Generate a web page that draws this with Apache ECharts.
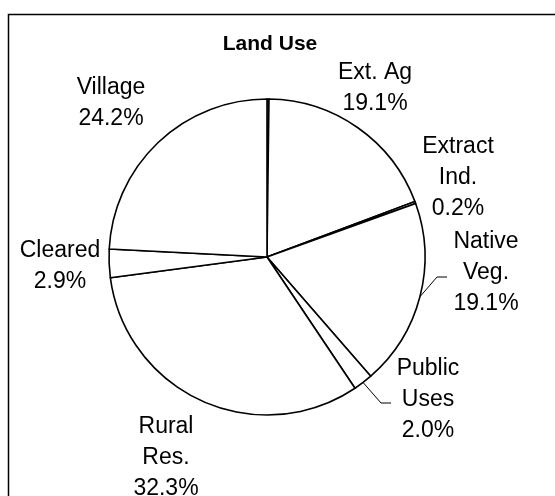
<!DOCTYPE html>
<html>
<head>
<meta charset="utf-8">
<script src="https://cdn.jsdelivr.net/npm/echarts@6/dist/echarts.min.js"></script>
<style>
  html, body { margin: 0; padding: 0; background: #fff; }
  #chart { width: 555px; height: 496px; }
</style>
</head>
<body>
<div id="chart"></div>
<script>
// Land use shares (percent of total area)
const categories = ['Other', 'Ext. Ag', 'Extract\nInd.', 'Native\nVeg.', 'Public\nUses', 'Rural\nRes.', 'Cleared', 'Village'];
const shares = [0.2, 19.1, 0.2, 19.1, 2.0, 32.3, 2.9, 24.2];
const showLabel = [false, true, true, true, true, true, true, true];
const withLeader = [false, false, false, true, true, false, false, false];
const chartTitle = 'Land Use';

// Label block centres and leader elbows (page pixels)
const labelPos = [
  null,
  [375, 88],
  [458, 178],
  [486, 273],
  [428, 400],
  [166, 458],
  [60, 266],
  [111, 103]
];
const leaderElbow = [null, null, null, [437, 277], [381, 403], null, null, null];

const CX = 267, CY = 257, R = 158;
const FONT = 'Liberation Sans, Arial, sans-serif';

const chart = echarts.init(document.getElementById('chart'), null, { renderer: 'canvas' });

const data = categories.map((name, i) => ({
  name: name,
  value: shares[i],
  label: { show: showLabel[i] },
  labelLine: { show: withLeader[i] }
}));

// Mid-angle point on the rim for each slice
const total = shares.reduce((a, b) => a + b, 0);
function rimPoint(idx) {
  let before = 0;
  for (let k = 0; k < idx; k++) before += shares[k];
  const midDeg = 90 - (before + shares[idx] / 2) / total * 360;
  const rad = midDeg * Math.PI / 180;
  return [CX + R * Math.cos(rad), CY - R * Math.sin(rad)];
}

chart.setOption({
  animation: false,
  backgroundColor: '#fff',
  graphic: [
    {
      type: 'rect',
      shape: { x: 8.5, y: 14.5, width: 700, height: 700 },
      style: { fill: 'none', stroke: '#000', lineWidth: 1.5 },
      z: -1
    },
    {
      type: 'text',
      x: 270,
      y: 44,
      style: {
        text: chartTitle,
        fill: '#000',
        font: 'bold 21px ' + FONT,
        textAlign: 'center',
        textVerticalAlign: 'middle'
      }
    }
  ],
  series: [{
    type: 'pie',
    center: [CX, CY],
    radius: [0, R],
    startAngle: 90,
    clockwise: true,
    avoidLabelOverlap: false,
    itemStyle: { color: '#fff', borderColor: '#000', borderWidth: 1.6 },
    emphasis: { disabled: true },
    label: {
      position: 'outside',
      color: '#000',
      fontFamily: FONT,
      fontSize: 23,
      lineHeight: 31,
      align: 'center',
      formatter: p => p.name + '\n' + p.value.toFixed(1) + '%'
    },
    labelLine: {
      lineStyle: { color: '#000', width: 1 },
      smooth: false
    },
    labelLayout: function (params) {
      const i = params.dataIndex;
      const pos = labelPos[i];
      if (!pos) return {};
      const out = { x: pos[0], y: pos[1], align: 'center', verticalAlign: 'middle' };
      if (leaderElbow[i]) {
        const e = leaderElbow[i];
        out.labelLinePoints = [rimPoint(i), e, [e[0] + 10, e[1]]];
      }
      return out;
    },
    data: data
  }]
});
</script>
</body>
</html>
